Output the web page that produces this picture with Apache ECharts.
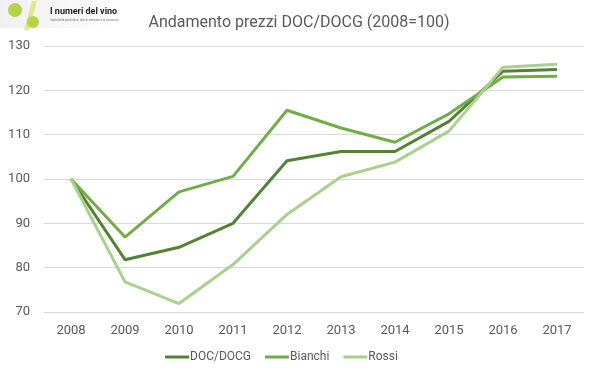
<!DOCTYPE html>
<html>
<head>
<meta charset="utf-8">
<script src="https://cdn.jsdelivr.net/npm/echarts@6/dist/echarts.min.js"></script>
<style>html,body{margin:0;padding:0;background:#fff}#c{width:598px;height:378px}</style>
</head>
<body>
<div id="c"></div>
<script>
var years = ['2008','2009','2010','2011','2012','2013','2014','2015','2016','2017'];
var docDocg = [100, 81.8, 84.6, 90.0, 104.1, 106.2, 106.2, 113.0, 124.3, 124.7];
var bianchi = [100, 86.9, 97.1, 100.6, 115.5, 111.5, 108.3, 114.7, 123.0, 123.2];
var rossi   = [100, 76.8, 71.9, 80.7, 92.0, 100.5, 103.8, 110.8, 125.2, 125.9];
var yTicks = [70, 130, 10];

var chart = echarts.init(document.getElementById('c'));
chart.setOption({
  animation: false,
  title: {
    text: 'Andamento prezzi DOC/DOCG (2008=100)',
    left: 'center', top: 10,
    textStyle: {color: '#595959', fontSize: 16, fontWeight: 'normal', fontFamily: 'Roboto'}
  },
  graphic: [
    {type: 'rect', shape: {x: 0, y: 0, width: 118, height: 28},
     style: {fill: {type: 'linear', x: 0, y: 0, x2: 1, y2: 0,
       colorStops: [{offset: 0, color: '#f0f0f0'}, {offset: 0.6, color: '#f8f8f8'}, {offset: 1, color: '#ffffff'}]}}},
    {type: 'polygon', shape: {points: [[24, 30], [29, 30], [37, 1], [32, 1]]}, style: {fill: '#dfe98a'}},
    {type: 'circle', shape: {cx: 15, cy: 10, r: 7}, style: {fill: '#b5d24a'}},
    {type: 'circle', shape: {cx: 33, cy: 22, r: 6}, style: {fill: '#b5d24a'}},
    {type: 'text', style: {x: 50, y: 7, text: 'I numeri del vino', fill: '#222', font: 'bold 9px Roboto'}},
    {type: 'text', style: {x: 50, y: 19, text: 'Statistiche produttive, dati di mercato e di consumo.', fill: '#777', font: '3px Roboto'}}
  ],
  grid: {left: 44, right: 14, top: 46, bottom: 66},
  legend: {
    bottom: 10, left: 160, itemWidth: 24, itemHeight: 3, itemGap: 14,
    icon: 'rect',
    textStyle: {color: '#595959', fontSize: 12, fontFamily: 'Roboto', padding: [0, 0, 0, -4]},
    data: ['DOC/DOCG', 'Bianchi', 'Rossi']
  },
  xAxis: {
    type: 'category', data: years, boundaryGap: true,
    axisLine: {show: false}, axisTick: {show: false},
    axisLabel: {color: '#595959', fontSize: 13, fontFamily: 'Roboto', margin: 12}
  },
  yAxis: {
    type: 'value', min: yTicks[0], max: yTicks[1], interval: yTicks[2],
    axisLine: {show: false}, axisTick: {show: false},
    axisLabel: {color: '#595959', fontSize: 13, fontFamily: 'Roboto', margin: 14},
    splitLine: {lineStyle: {color: '#d9d9d9', width: 1}}
  },
  series: [
    {name: 'DOC/DOCG', type: 'line', data: docDocg, symbol: 'none', lineStyle: {width: 3, color: '#548235'}, itemStyle: {color: '#548235'}},
    {name: 'Bianchi', type: 'line', data: bianchi, symbol: 'none', lineStyle: {width: 3, color: '#70ad47'}, itemStyle: {color: '#70ad47'}},
    {name: 'Rossi', type: 'line', data: rossi, symbol: 'none', lineStyle: {width: 3, color: '#a9d18e'}, itemStyle: {color: '#a9d18e'}}
  ]
});
</script>
</body>
</html>
